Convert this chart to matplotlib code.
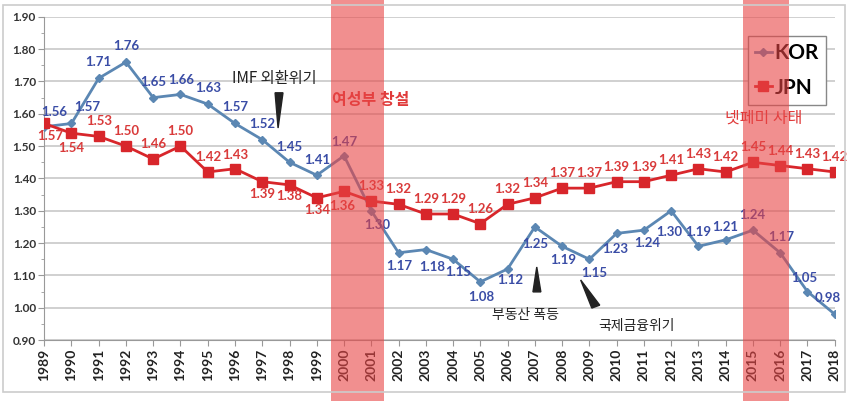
import numpy as np
import matplotlib
matplotlib.use('Agg')
from matplotlib import pyplot as plt
from matplotlib.patches import Rectangle, Polygon
from matplotlib.transforms import blended_transform_factory

#%% Data
years = list(range(1989, 2019))
kor = [1.56, 1.57, 1.71, 1.76, 1.65, 1.66, 1.63, 1.57, 1.52, 1.45,
       1.41, 1.47, 1.30, 1.17, 1.18, 1.15, 1.08, 1.12, 1.25, 1.19,
       1.15, 1.23, 1.24, 1.30, 1.19, 1.21, 1.24, 1.17, 1.05, 0.98]
jpn = [1.57, 1.54, 1.53, 1.50, 1.46, 1.50, 1.42, 1.43, 1.39, 1.38,
       1.34, 1.36, 1.33, 1.32, 1.29, 1.29, 1.26, 1.32, 1.34, 1.37,
       1.37, 1.39, 1.39, 1.41, 1.43, 1.42, 1.45, 1.44, 1.43, 1.42]

# label offsets in pixels (dx, dy)
kor_off = [(10, 15), (16, 16), (0, 16), (0, 16), (0, 16), (1, 14), (0, 16),
           (0, 16), (0, 16), (0, 15), (0, 15), (0, 14), (6, -14), (1, -13),
           (6, -17), (5, -13), (1, -15), (3, -11), (0, -17), (1, -14),
           (5, -14), (-1, -16), (3, -13), (-2, -21), (0, 14), (0, 13),
           (-1, 15), (1, 16), (-3, 14), (-7, 16)]
jpn_off = [(6, -13), (0, -15), (0, 15), (0, 15), (0, 15), (0, 15), (0, 15),
           (0, 14), (0, -12), (0, -11), (0, -12), (-2, -15)] + [(0, 15)] * 18

KOR_LINE = '#5b87b3'
KOR_TXT = '#3a4da6'
JPN_LINE = '#d8262b'
JPN_TXT = '#d93a3a'
CJK = ['Noto Sans CJK KR', 'DejaVu Sans']

plt.rcParams['font.family'] = ['Lato', 'Noto Sans CJK KR', 'DejaVu Sans']

#%% Plotting
fig = plt.figure(figsize=(8.5, 4.01), dpi=100)
ax = fig.add_axes([0.052, 0.152, 0.93, 0.806])

ax.plot(years, kor, color=KOR_LINE, lw=2, marker='D', ms=4, label='KOR', zorder=3)
ax.plot(years, jpn, color=JPN_LINE, lw=2, marker='s', ms=6.5, label='JPN', zorder=3)

for x, v, (dx, dy) in zip(years, kor, kor_off):
    ax.annotate(f'{v:.2f}', (x, v), xytext=(dx, dy), textcoords='offset pixels',
                ha='center', va='center', fontsize=9.5, fontweight='bold',
                color=KOR_TXT, zorder=4)
for x, v, (dx, dy) in zip(years, jpn, jpn_off):
    ax.annotate(f'{v:.2f}', (x, v), xytext=(dx, dy), textcoords='offset pixels',
                ha='center', va='center', fontsize=9.5, fontweight='bold',
                color=JPN_TXT, zorder=4)

ax.set_xlim(1989, 2018)
ax.set_ylim(0.9, 1.9)
ax.set_xticks(years)
ax.set_xticklabels([str(y) for y in years], rotation=90, fontsize=10,
                   fontweight='bold', color='#222222')
ax.set_yticks(np.arange(0.9, 1.91, 0.1))
ax.set_yticks(np.arange(0.95, 1.9, 0.1), minor=True)
ax.set_yticklabels([f'{v:.2f}' for v in np.arange(0.9, 1.91, 0.1)],
                   fontsize=8.5, fontweight='bold', color='#333333')
ax.tick_params(axis='both', which='major', length=4, color='#999999', pad=2)
ax.tick_params(axis='y', which='minor', length=2, color='#999999')
ax.grid(axis='y', color='#c8c8c8', lw=1.2)
ax.set_axisbelow(True)
for s in ['top', 'right']:
    ax.spines[s].set_visible(False)
for s in ['left', 'bottom']:
    ax.spines[s].set_color('#999999')

leg = ax.legend(loc='upper left', bbox_to_anchor=(0.89, 0.941), borderaxespad=0,
                fancybox=False, edgecolor='#888888', framealpha=1,
                handlelength=0.8, handletextpad=0.15, borderpad=0.35,
                labelspacing=0.7, prop={'size': 15, 'weight': 'bold'})
leg.set_zorder(5)

# annotations
ax.text(1997.43, 1.708, 'IMF 외환위기', family=CJK, fontsize=11, ha='center',
        va='center', color='#222222')
ax.add_patch(Polygon([(1997.47, 1.665), (1997.76, 1.665), (1997.58, 1.556)],
                     closed=True, color='#222222', zorder=4))
ax.text(1999.56, 1.643, '여성부 창설', family=CJK, fontsize=11.5, fontweight='bold',
        ha='left', va='center', color='#e03a3a')
ax.text(2013.96, 1.587, '넷페미 사태', family=CJK, fontsize=11.5, ha='left',
        va='center', color='#e03a3a')
ax.text(2005.42, 0.977, '부동산 폭등', family=CJK, fontsize=10, ha='left',
        va='center', color='#222222')
ax.add_patch(Polygon([(2007.07, 1.126), (2006.93, 1.049), (2007.22, 1.049)],
                     closed=True, color='#222222', zorder=4))
ax.text(2009.34, 0.943, '국제금융위기', family=CJK, fontsize=10, ha='left',
        va='center', color='#222222')
ax.add_patch(Polygon([(2008.68, 1.086), (2009.09, 0.999), (2009.38, 1.008)],
                     closed=True, color='#222222', zorder=4))

# highlighted periods, spanning the full figure height
trans = blended_transform_factory(ax.transData, fig.transFigure)
for x0, x1 in [(1999.52, 2001.46), (2014.62, 2016.31)]:
    ax.add_patch(Rectangle((x0, 0), x1 - x0, 1, transform=trans, clip_on=False,
                           facecolor='#e84545', alpha=0.6, lw=0, zorder=10))

# outer frame
fig.add_artist(Rectangle((0.0035, 0.0224), 0.9906, 0.965, transform=fig.transFigure,
                         fill=False, edgecolor='#cccccc', lw=1.2))

fig.savefig('out.png', dpi=100)
